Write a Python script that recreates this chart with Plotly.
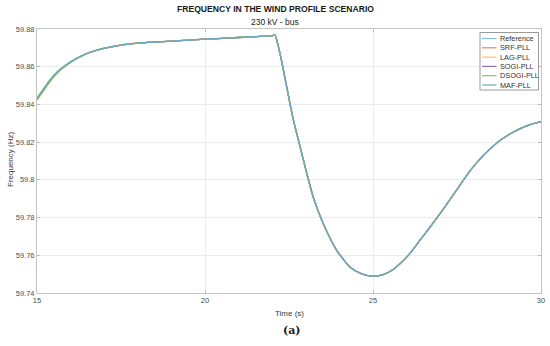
import plotly.graph_objects as go

# ---- data ----
time_s = [15, 15.2, 15.4, 15.6, 15.8, 16, 16.3, 16.6, 17, 17.5, 18, 18.5, 19, 19.5, 20,
          20.5, 21, 21.5, 22, 22.08, 22.23, 22.43, 22.63, 22.83, 23.03, 23.22, 23.52,
          23.92, 24.32, 24.65, 25, 25.3, 25.6, 25.8, 26.1, 26.4, 26.7, 27, 27.3, 27.6,
          27.9, 28.2, 28.5, 28.8, 29.1, 29.4, 29.7, 30]
freq_reference = [59.843, 59.848, 59.853, 59.857, 59.860, 59.8625, 59.8655, 59.8678,
                  59.8698, 59.8715, 59.8725, 59.8731, 59.8736, 59.8741, 59.8746, 59.8750,
                  59.8755, 59.8760, 59.8765, 59.8768, 59.8672, 59.8495, 59.8318, 59.8176,
                  59.8034, 59.7910, 59.7768, 59.7626, 59.7537, 59.7503, 59.7488, 59.7497,
                  59.7525, 59.7555, 59.7610, 59.7680, 59.7750, 59.7822, 59.7898, 59.7975,
                  59.8050, 59.8114, 59.8167, 59.8211, 59.8246, 59.8273, 59.8294, 59.8309]
freq_srf = [59.8425, 59.8476, 59.8527, 59.8568, 59.8598, 59.8624, 59.8654, 59.8677,
            59.8697, 59.8715, 59.8725, 59.8731, 59.8736, 59.8741, 59.8746, 59.8750,
            59.8755, 59.8760, 59.8765, 59.8768, 59.8671, 59.8494, 59.8317, 59.8175,
            59.8033, 59.7909, 59.7767, 59.7626, 59.7537, 59.7503, 59.7488, 59.7497,
            59.7525, 59.7555, 59.7610, 59.7680, 59.7750, 59.7822, 59.7898, 59.7975,
            59.8050, 59.8114, 59.8167, 59.8211, 59.8246, 59.8273, 59.8294, 59.8309]
freq_lag = list(freq_srf)
freq_sogi = list(freq_srf)
freq_dsogi = [59.8423, 59.8474, 59.8525, 59.8566, 59.8597, 59.8623, 59.8653, 59.8677,
              59.8697, 59.8714, 59.8725, 59.8731, 59.8736, 59.8741, 59.8746, 59.8750,
              59.8755, 59.8760, 59.8765, 59.8768, 59.8670, 59.8493, 59.8316, 59.8174,
              59.8032, 59.7908, 59.7767, 59.7626, 59.7537, 59.7503, 59.7488, 59.7497,
              59.7525, 59.7555, 59.7610, 59.7680, 59.7750, 59.7822, 59.7898, 59.7975,
              59.8050, 59.8114, 59.8167, 59.8211, 59.8246, 59.8273, 59.8294, 59.8309]
freq_maf = [59.8435, 59.8485, 59.8534, 59.8573, 59.8602, 59.8627, 59.8656, 59.8679,
            59.8699, 59.8716, 59.8725, 59.8731, 59.8736, 59.8741, 59.8746, 59.8750,
            59.8755, 59.8760, 59.8765, 59.8768, 59.8673, 59.8496, 59.8319, 59.8177,
            59.8035, 59.7911, 59.7768, 59.7626, 59.7537, 59.7503, 59.7488, 59.7497,
            59.7525, 59.7555, 59.7610, 59.7680, 59.7750, 59.7822, 59.7898, 59.7975,
            59.8050, 59.8114, 59.8167, 59.8211, 59.8246, 59.8273, 59.8294, 59.8309]

series_names = ["Reference", "SRF-PLL", "LAG-PLL", "SOGI-PLL", "DSOGI-PLL", "MAF-PLL"]
series_values = [freq_reference, freq_srf, freq_lag, freq_sogi, freq_dsogi, freq_maf]
series_colors = ["#86bfe3", "#e98a62", "#f0c56a", "#9c6fab", "#93c061", "#6aa9c4"]

x_tick_vals = [15, 20, 25, 30]
x_tick_text = ["15", "20", "25", "30"]
y_tick_vals = [59.74, 59.76, 59.78, 59.80, 59.82, 59.84, 59.86, 59.88]
y_tick_text = ["59.74", "59.76", "59.78", "59.8", "59.82", "59.84", "59.86", "59.88"]

# ---- figure ----
W, H = 550, 346
ML, MR, MT, MB = 37, 9, 29, 53
PW, PH = W - ML - MR, H - MT - MB

fig = go.Figure()
for name, vals, col in zip(series_names, series_values, series_colors):
    fig.add_trace(go.Scatter(x=time_s, y=vals, name=name, mode="lines",
                             line=dict(color=col, width=1.3, shape="spline", smoothing=0.6),
                             showlegend=False))

axis_font = dict(family="Liberation Sans, Arial, sans-serif", size=7.5, color="#4d4d4d")
common = dict(showgrid=True, gridcolor="#ececec", gridwidth=1, showline=True,
              linecolor="#c4c4c4", linewidth=1, mirror="ticks", ticks="inside",
              ticklen=3, tickcolor="#bdbdbd", zeroline=False, tickfont=axis_font,
              automargin=False)

fig.update_layout(
    width=W, height=H, margin=dict(l=ML, r=MR, t=MT, b=MB, autoexpand=False),
    paper_bgcolor="white", plot_bgcolor="white",
    xaxis=dict(range=[15, 30], tickvals=x_tick_vals, ticktext=x_tick_text, **common),
    yaxis=dict(range=[59.74, 59.88], tickvals=y_tick_vals, ticktext=y_tick_text, **common),
)

def px_x(p):
    return (p - ML) / PW

def px_y(p):
    return 1 - (p - MT) / PH

annots = [
    dict(text="<b>FREQUENCY IN THE WIND PROFILE SCENARIO</b>", x=px_x(275), y=px_y(9.5),
         font=dict(family="Liberation Sans, Arial, sans-serif", size=8.6, color="#1a1a1a")),
    dict(text="230 kV - bus", x=px_x(275), y=px_y(22),
         font=dict(family="Liberation Sans, Arial, sans-serif", size=8.5, color="#1a1a1a")),
    dict(text="Time (s)", x=px_x(289), y=px_y(313),
         font=dict(family="Liberation Sans, Arial, sans-serif", size=8, color="#3a3a3a")),
    dict(text="Frequency (Hz)", x=px_x(10), y=px_y(160), textangle=-90,
         font=dict(family="Liberation Sans, Arial, sans-serif", size=8, color="#3a3a3a")),
    dict(text="<b>(a)</b>", x=px_x(292), y=px_y(330),
         font=dict(family="DejaVu Serif, Liberation Serif, serif", size=11, color="#1a1a1a")),
]
for a in annots:
    fig.add_annotation(xref="paper", yref="paper", showarrow=False,
                       xanchor="center", yanchor="middle", **a)

# legend drawn in the plot's top-right corner
fig.add_shape(type="rect", xref="paper", yref="paper",
              x0=px_x(480), x1=px_x(538.5), y0=px_y(90), y1=px_y(32.5),
              line=dict(color="#9a9a9a", width=1), fillcolor="white", layer="above")
row_y = [38.5, 47.8, 57.1, 66.4, 75.7, 85.0]
for name, col, ry in zip(series_names, series_colors, row_y):
    fig.add_shape(type="line", xref="paper", yref="paper",
                  x0=px_x(482), x1=px_x(496.5), y0=px_y(ry), y1=px_y(ry),
                  line=dict(color=col, width=1.2), layer="above")
    fig.add_annotation(xref="paper", yref="paper", showarrow=False, text=name,
                       x=px_x(497.5), y=px_y(ry), xanchor="left", yanchor="middle",
                       font=dict(family="Liberation Sans, Arial, sans-serif", size=7.3,
                                 color="#333333"))

fig.write_html("out.html", config={"displayModeBar": False},
               post_script="document.body.style.margin='0';document.body.style.overflow='hidden';")
